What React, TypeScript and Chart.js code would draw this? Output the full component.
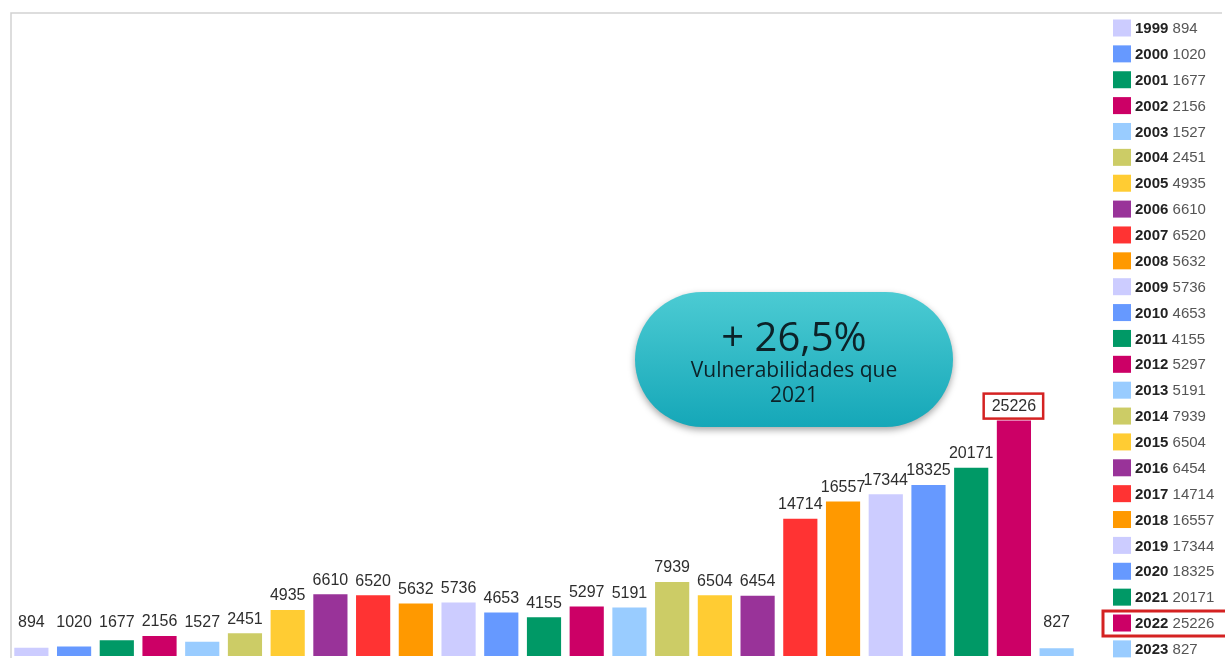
import React, { useEffect, useRef } from "react";
import { Chart, registerables } from "chart.js";

Chart.register(...registerables);

const years = [
  "1999", "2000", "2001", "2002", "2003", "2004", "2005", "2006", "2007", "2008",
  "2009", "2010", "2011", "2012", "2013", "2014", "2015", "2016", "2017", "2018",
  "2019", "2020", "2021", "2022", "2023",
];

const vulnerabilities = [
  894, 1020, 1677, 2156, 1527, 2451, 4935, 6610, 6520, 5632,
  5736, 4653, 4155, 5297, 5191, 7939, 6504, 6454, 14714, 16557,
  17344, 18325, 20171, 25226, 827,
];

const palette = [
  "#ccccff", "#6699ff", "#009966", "#cc0066", "#99ccff",
  "#cccc66", "#ffcc33", "#993399", "#ff3333", "#ff9900",
];

const highlightYear = "2022";
const bubbleTitle = "+ 26,5%";
const bubbleLines = ["Vulnerabilidades que", "2021"];

const barColors = years.map((_, i) => palette[i % palette.length]);

const overlayPlugin = {
  id: "overlay",
  afterDatasetsDraw(chart: any) {
    const ctx = chart.ctx as CanvasRenderingContext2D;
    const meta = chart.getDatasetMeta(0);
    ctx.save();

    // frame
    ctx.strokeStyle = "#d2d2d2";
    ctx.lineWidth = 1.5;
    ctx.beginPath();
    ctx.moveTo(11, 658);
    ctx.lineTo(11, 13);
    ctx.lineTo(1222, 13);
    ctx.stroke();

    // value labels
    ctx.font = "16px 'Liberation Sans', Arial, sans-serif";
    ctx.textAlign = "center";
    ctx.textBaseline = "middle";
    meta.data.forEach((bar: any, i: number) => {
      const cy = Math.min(bar.y - 14, 623);
      const txt = String(vulnerabilities[i]);
      ctx.fillStyle = "#2e2e2e";
      ctx.fillText(txt, bar.x, cy);
      if (years[i] === highlightYear) {
        const w = ctx.measureText(txt).width;
        ctx.strokeStyle = "#d42222";
        ctx.lineWidth = 2.5;
        ctx.strokeRect(bar.x - w / 2 - 8, cy - 13, w + 15, 25);
      }
    });

    // legend
    const lx = 1113;
    const ly0 = 28;
    const step = 25.87;
    years.forEach((y, i) => {
      const cy = ly0 + i * step;
      ctx.fillStyle = barColors[i];
      ctx.fillRect(lx, cy - 8.5, 18, 17);
      ctx.textAlign = "left";
      ctx.textBaseline = "middle";
      ctx.font = "bold 15px 'Liberation Sans', Arial, sans-serif";
      ctx.fillStyle = "#222222";
      ctx.fillText(y, lx + 22, cy + 1);
      const bw = ctx.measureText(y).width;
      ctx.font = "15px 'Liberation Sans', Arial, sans-serif";
      ctx.fillStyle = "#555555";
      ctx.fillText(" " + vulnerabilities[i], lx + 22 + bw, cy + 1);
      if (y === highlightYear) {
        ctx.strokeStyle = "#d42222";
        ctx.lineWidth = 3;
        ctx.strokeRect(1103, cy - 12, 130, 25);
      }
    });

    // bubble
    const bx1 = 635, bx2 = 953, by1 = 292, by2 = 427;
    const r = (by2 - by1) / 2;
    ctx.save();
    ctx.shadowColor = "rgba(0,0,0,0.35)";
    ctx.shadowBlur = 7;
    ctx.shadowOffsetY = 3;
    const g = ctx.createLinearGradient(0, by1, 0, by2);
    g.addColorStop(0, "#4ccbd3");
    g.addColorStop(1, "#15a7b8");
    ctx.fillStyle = g;
    ctx.beginPath();
    ctx.moveTo(bx1 + r, by1);
    ctx.lineTo(bx2 - r, by1);
    ctx.arc(bx2 - r, by1 + r, r, -Math.PI / 2, Math.PI / 2);
    ctx.lineTo(bx1 + r, by2);
    ctx.arc(bx1 + r, by1 + r, r, Math.PI / 2, (3 * Math.PI) / 2);
    ctx.closePath();
    ctx.fill();
    ctx.restore();

    const cx = (bx1 + bx2) / 2;
    ctx.textAlign = "center";
    ctx.textBaseline = "alphabetic";
    ctx.fillStyle = "#0c2228";
    ctx.font = "40px 'Open Sans', sans-serif";
    ctx.fillText(bubbleTitle, cx, 351);
    ctx.font = "21px 'Open Sans', sans-serif";
    ctx.fillText(bubbleLines[0], cx, 377);
    ctx.fillText(bubbleLines[1], cx, 402);

    ctx.restore();
  },
};

export default function App() {
  const ref = useRef<HTMLCanvasElement | null>(null);
  useEffect(() => {
    if (!ref.current) return;
    const chart = new Chart(ref.current, {
      type: "bar",
      data: {
        labels: years,
        datasets: [
          {
            data: vulnerabilities,
            backgroundColor: barColors,
            borderWidth: 0,
            barPercentage: 0.8,
            categoryPercentage: 1,
          },
        ],
      },
      options: {
        responsive: false,
        animation: false,
        layout: { padding: { left: 10, right: 147, top: 14, bottom: 2 } },
        scales: {
          x: { display: false, offset: true },
          y: { display: false, min: 0, max: 68800 },
        },
        plugins: {
          legend: { display: false },
          tooltip: { enabled: false },
        },
      },
      plugins: [overlayPlugin],
    });
    return () => chart.destroy();
  }, []);
  return (
    <div style={{ position: "fixed", left: 0, top: 0, width: 1225, height: 658, background: "#fff" }}>
      <canvas ref={ref} width={1225} height={658} style={{ display: "block" }} />
    </div>
  );
}
